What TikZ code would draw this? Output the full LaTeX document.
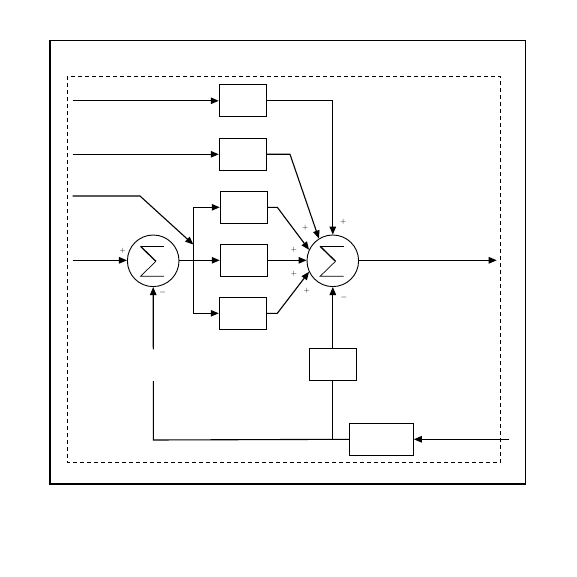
\documentclass[tikz,border=0pt]{standalone}
\usetikzlibrary{arrows.meta}
\begin{document}
\begin{tikzpicture}[x=1pt,y=-1pt, line width=1.1pt,
  blk/.style={draw, minimum width=47pt, minimum height=32pt, inner sep=0pt},
  sumnode/.style={draw, circle, minimum size=51.6pt, inner sep=0pt, line width=0.9pt},
  arr/.style={-{Triangle[length=8pt,width=6.5pt]}},
  pls/.style={font=\scriptsize, inner sep=0pt},
  mns/.style={font=\footnotesize, inner sep=0pt},
  sigthin/.style={line width=0.7pt},
  sigthick/.style={line width=1.3pt}]
\useasboundingbox (0,0) rectangle (577,577);
\draw[line width=1.3pt] (50,40.3) rectangle (525.3,484);
\draw[line width=0.9pt, dash pattern=on 4pt off 3pt] (67.3,76.3) rectangle (500.7,462.3);
% blocks
\node[blk] (b1) at (242.8,100.8) {};
\node[blk] (b2) at (242.8,154.3) {};
\node[blk] (b3) at (243.8,207.3) {};
\node[blk] (b4) at (243.8,260.3) {};
\node[blk] (b5) at (242.8,313.3) {};
\node[blk] (b6) at (332.8,364.3) {};
\node[blk, minimum width=64pt] (b7) at (381.3,439.3) {};
% summing junctions
\node[sumnode] (s1) at (153.2,260.8) {};
\node[sumnode] (s2) at (332.8,260.8) {};
\foreach \s in {s1,s2}{
  \draw[sigthin] ([shift={(-12.7,-14.5)}]\s.center) -- ([shift={(10.7,-14.5)}]\s.center);
  \draw[sigthick] ([shift={(-12.7,-14.5)}]\s.center) -- ([shift={(2.7,0.5)}]\s.center);
  \draw[sigthin] ([shift={(2.7,0.5)}]\s.center) -- ([shift={(-12.7,15.5)}]\s.center) -- ([shift={(10.7,15.5)}]\s.center);
}
% coordinates
\coordinate (i1) at (72.7,100.8);
\coordinate (i2) at (72.7,154.3);
\coordinate (i3) at (72.7,196);
\coordinate (k3) at (140,196);
\coordinate (j3) at (193.3,244.5);
\coordinate (i4) at (72.7,260.3);
\coordinate (jt) at (193.3,207.3);
\coordinate (jm) at (193.3,260.3);
\coordinate (jb) at (193.3,313.3);
\coordinate (k2) at (290,154.3);
\coordinate (k3r) at (277.3,207.3);
\coordinate (k5r) at (277.3,313.3);
\coordinate (out) at (496.7,260.3);
\coordinate (fb) at (332.8,440);
\coordinate (fl) at (153.3,440);
\coordinate (g1top) at (153.3,381);
\coordinate (g1bot) at (153.3,349.3);
\coordinate (in7) at (509.3,439.3);
% inputs
\draw[arr] (i1) -- (b1.west);
\draw[arr] (i2) -- (b2.west);
\draw[arr] (i3) -- (k3) -- (j3);
\draw[arr] (i4) -- (s1.west |- i4);
% distribution
\draw[arr] (s1.east |- jm) -- (b4.west);
\draw (jt) -- (jb);
\draw[arr] (jm) |- (b3.west);
\draw[arr] (jm) |- (b5.west);
% to second sum
\draw[arr] (b1.east) -| (s2.north);
\draw[arr] (b2.east) -- (k2) -- (s2.122);
\draw[arr] (b3.east) -- (k3r) -- (s2.155);
\draw[arr] (b4.east) -- (s2.west |- b4.east);
\draw[arr] (b5.east) -- (k5r) -- (s2.205);
\draw[arr] (s2.east |- jm) -- (out);
% feedback
\draw[arr] (b6.north) -- (s2.south);
\draw (b6.south) -- (fb);
\draw (b7.west) -- (fl) -- (g1top);
\draw[arr] (g1bot) -- (s1.south);
\draw[arr] (in7) -- (b7.east);
% signs
\node[pls] at (122.7,250.7) {$+$};
\node[mns] at (162.7,292) {$-$};
\node[pls] at (343.3,221.3) {$+$};
\node[pls] at (305.3,228) {$+$};
\node[pls] at (294,249.3) {$+$};
\node[pls] at (294,274) {$+$};
\node[pls] at (306.7,290.7) {$+$};
\node[mns] at (344,297.7) {$-$};
\end{tikzpicture}
\end{document}
